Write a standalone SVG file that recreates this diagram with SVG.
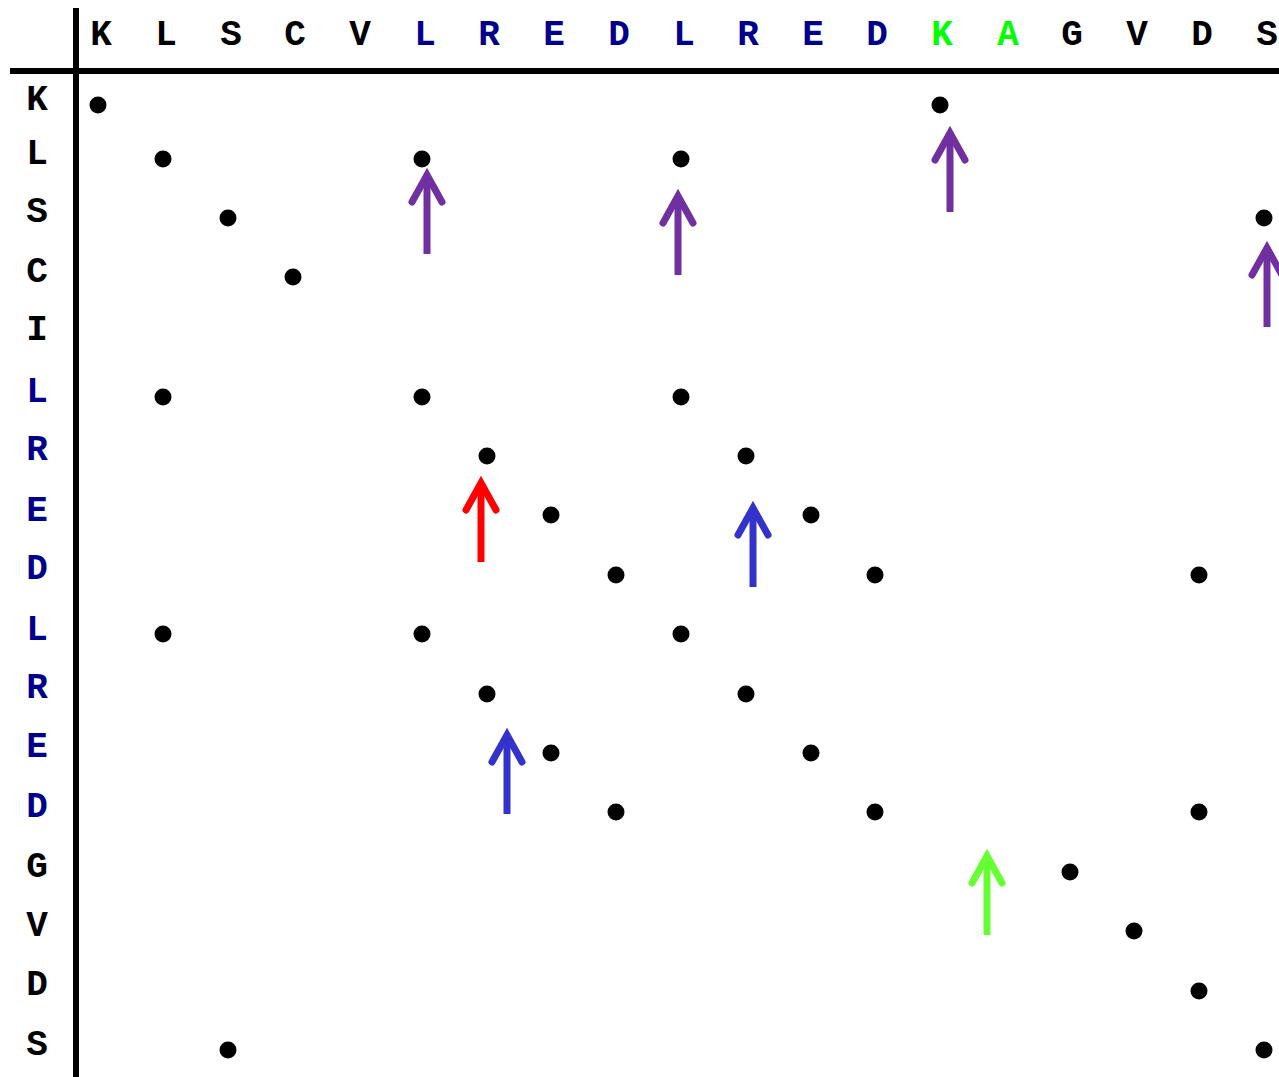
<svg xmlns="http://www.w3.org/2000/svg" width="1279" height="1077" viewBox="0 0 1279 1077">
<style>
text{font-family:"Liberation Mono","Courier New",monospace;font-weight:bold;font-size:36px;text-anchor:middle}
.k{fill:#000}.b{fill:#00008b}.g{fill:#00ff00}
.dot{fill:#000}
.ar{fill:none;stroke-width:7;stroke-linecap:round;stroke-linejoin:miter}
.shaft{stroke-linecap:butt}
</style>
<rect width="1279" height="1077" fill="#fff"/>
<g id="axes">
<line x1="10" y1="71" x2="1279" y2="71" stroke="#000" stroke-width="6"/>
<line x1="76" y1="8" x2="76" y2="1077" stroke="#000" stroke-width="6"/>
</g>
<g id="header">
<text x="101" y="45" class="k">K</text>
<text x="166" y="45" class="k">L</text>
<text x="231" y="45" class="k">S</text>
<text x="295" y="45" class="k">C</text>
<text x="360" y="45" class="k">V</text>
<text x="425" y="45" class="b">L</text>
<text x="489" y="45" class="b">R</text>
<text x="554" y="45" class="b">E</text>
<text x="619" y="45" class="b">D</text>
<text x="684" y="45" class="b">L</text>
<text x="748" y="45" class="b">R</text>
<text x="813" y="45" class="b">E</text>
<text x="877" y="45" class="b">D</text>
<text x="942" y="45" class="g">K</text>
<text x="1008" y="45" class="g">A</text>
<text x="1072" y="45" class="k">G</text>
<text x="1137" y="45" class="k">V</text>
<text x="1202" y="45" class="k">D</text>
<text x="1267" y="45" class="k">S</text>
</g>
<g id="rows">
<text x="37" y="110" class="k">K</text>
<text x="37" y="164" class="k">L</text>
<text x="37" y="222" class="k">S</text>
<text x="37" y="282" class="k">C</text>
<text x="37" y="340" class="k">I</text>
<text x="37" y="402" class="b">L</text>
<text x="37" y="460" class="b">R</text>
<text x="37" y="521" class="b">E</text>
<text x="37" y="579" class="b">D</text>
<text x="37" y="640" class="b">L</text>
<text x="37" y="698" class="b">R</text>
<text x="37" y="757" class="b">E</text>
<text x="37" y="817" class="b">D</text>
<text x="37" y="877" class="k">G</text>
<text x="37" y="936" class="k">V</text>
<text x="37" y="995" class="k">D</text>
<text x="37" y="1055" class="k">S</text>
</g>
<g id="dots" class="dot">
<circle cx="98" cy="105" r="8.5"/><circle cx="940" cy="105" r="8.5"/>
<circle cx="163" cy="159" r="8.5"/><circle cx="422" cy="159" r="8.5"/><circle cx="681" cy="159" r="8.5"/>
<circle cx="228" cy="218" r="8.5"/><circle cx="1264" cy="218" r="8.5"/>
<circle cx="293" cy="277" r="8.5"/>
<circle cx="163" cy="397" r="8.5"/><circle cx="422" cy="397" r="8.5"/><circle cx="681" cy="397" r="8.5"/>
<circle cx="487" cy="456" r="8.5"/><circle cx="746" cy="456" r="8.5"/>
<circle cx="551" cy="515" r="8.5"/><circle cx="811" cy="515" r="8.5"/>
<circle cx="616" cy="575" r="8.5"/><circle cx="875" cy="575" r="8.5"/><circle cx="1199" cy="575" r="8.5"/>
<circle cx="163" cy="634" r="8.5"/><circle cx="422" cy="634" r="8.5"/><circle cx="681" cy="634" r="8.5"/>
<circle cx="487" cy="694" r="8.5"/><circle cx="746" cy="694" r="8.5"/>
<circle cx="551" cy="753" r="8.5"/><circle cx="811" cy="753" r="8.5"/>
<circle cx="616" cy="812" r="8.5"/><circle cx="875" cy="812" r="8.5"/><circle cx="1199" cy="812" r="8.5"/>
<circle cx="1070" cy="872" r="8.5"/>
<circle cx="1134" cy="931" r="8.5"/>
<circle cx="1199" cy="991" r="8.5"/>
<circle cx="228" cy="1050" r="8.5"/><circle cx="1264" cy="1050" r="8.5"/>
</g>
<g id="connectors">
<g stroke="#7030a0">
<path class="ar shaft" d="M427 254V178"/><path class="ar" d="M412 202L427 175L442 202"/>
<path class="ar shaft" d="M678 275V199"/><path class="ar" d="M663 223L678 196L693 223"/>
<path class="ar shaft" d="M950 212V136"/><path class="ar" d="M935 160L950 133L965 160"/>
<path class="ar shaft" d="M1267 327V251"/><path class="ar" d="M1252 275L1267 248L1282 275"/>
</g>
<g stroke="#ff0000">
<path class="ar shaft" d="M481 562V486"/><path class="ar" d="M466 510L481 483L496 510"/>
</g>
<g stroke="#3333cc">
<path class="ar shaft" d="M753 587V511"/><path class="ar" d="M738 535L753 508L768 535"/>
<path class="ar shaft" d="M507 814V738"/><path class="ar" d="M492 762L507 735L522 762"/>
</g>
<g stroke="#66ff33">
<path class="ar shaft" d="M987 935V859"/><path class="ar" d="M972 883L987 856L1002 883"/>
</g>
</g>
</svg>
